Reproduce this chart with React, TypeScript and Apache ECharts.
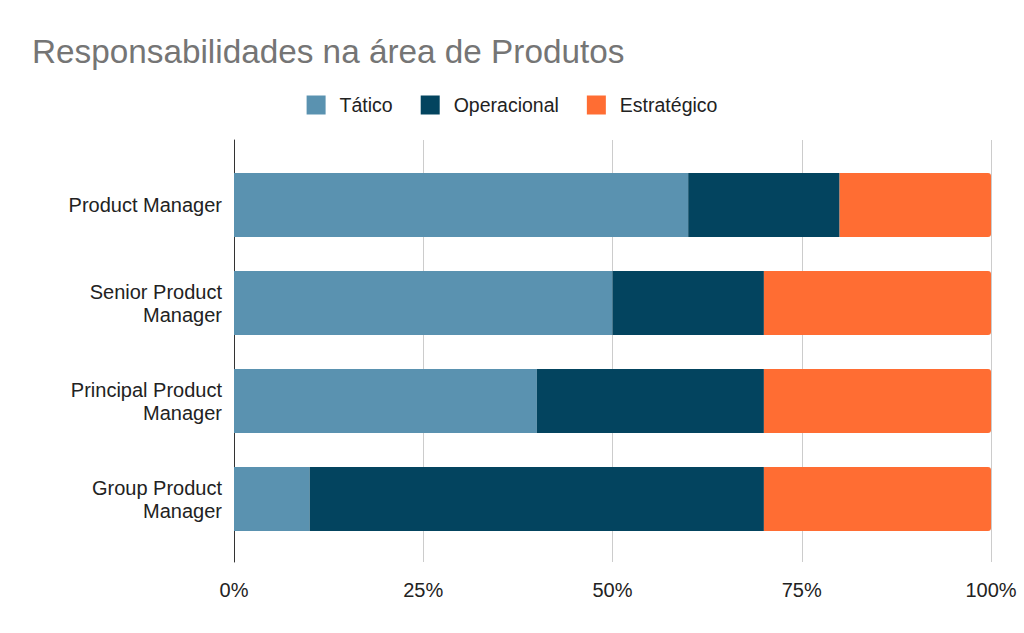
import React, { useEffect, useRef } from "react";
import * as echarts from "echarts";

const categories = [
  "Product Manager",
  "Senior Product\nManager",
  "Principal Product\nManager",
  "Group Product\nManager",
];
const tatico = [60, 50, 40, 10];
const operacional = [20, 20, 30, 60];
const estrategico = [20, 30, 30, 30];
const xTicks = [0, 25, 50, 75, 100];

export default function App() {
  const ref = useRef<HTMLDivElement>(null);
  useEffect(() => {
    const chart = echarts.init(ref.current!, null, { renderer: "svg" });
    const font = "'Liberation Sans', Arial, sans-serif";
    chart.setOption({
      animation: false,
      textStyle: { fontFamily: font },
      title: {
        text: "Responsabilidades na área de Produtos",
        left: 27,
        top: 30,
        textStyle: { fontSize: 33.3, fontWeight: "normal", color: "#757575", fontFamily: font },
      },
      legend: {
        top: 90,
        left: "center",
        itemWidth: 19,
        itemHeight: 19,
        itemGap: 28,
        icon: "rect",
        data: ["Tático", "Operacional", "Estratégico"],
        textStyle: { fontSize: 19.5, color: "#222", padding: [0, 0, 0, 9] },
      },
      grid: [
        { left: 234, right: 33, top: 156, bottom: 85 },
        { left: 234, right: 33, top: 140, bottom: 71 },
      ],
      xAxis: [
        {
          gridIndex: 0,
          type: "value",
          min: 0,
          max: 100,
          interval: 25,
          show: false,
        },
        {
          gridIndex: 1,
          type: "value",
          min: xTicks[0],
          max: xTicks[xTicks.length - 1],
          interval: 25,
          axisLine: { show: false },
          axisTick: { show: false },
          splitLine: { show: true, lineStyle: { color: "#cccccc", width: 1 } },
          axisLabel: {
            margin: 18,
            fontSize: 20,
            color: "#222",
            formatter: (v: number) => v + "%",
          },
        },
      ],
      yAxis: [
        {
          gridIndex: 0,
          type: "category",
          inverse: true,
          data: categories,
          axisLine: { show: false },
          axisTick: { show: false },
          axisLabel: { fontSize: 20, color: "#222", margin: 12, lineHeight: 23, align: "right" },
        },
        {
          gridIndex: 1,
          type: "category",
          data: [""],
          axisLine: { show: true, lineStyle: { color: "#333", width: 1 } },
          axisTick: { show: false },
          axisLabel: { show: false },
        },
      ],
      series: [
        {
          name: "Tático",
          type: "bar",
          stack: "s",
          barWidth: 64,
          xAxisIndex: 0,
          yAxisIndex: 0,
          itemStyle: { color: "#5A92B0" },
          data: tatico,
        },
        {
          name: "Operacional",
          type: "bar",
          stack: "s",
          barWidth: 64,
          xAxisIndex: 0,
          yAxisIndex: 0,
          itemStyle: { color: "#03445F" },
          data: operacional,
        },
        {
          name: "Estratégico",
          type: "bar",
          stack: "s",
          barWidth: 64,
          xAxisIndex: 0,
          yAxisIndex: 0,
          itemStyle: { color: "#FF6D33", borderRadius: [0, 3, 3, 0] },
          data: estrategico,
        },
      ],
    });
    return () => chart.dispose();
  }, []);
  return <div ref={ref} style={{ width: 1024, height: 633, position: "absolute", left: 0, top: 0 }} />;
}
